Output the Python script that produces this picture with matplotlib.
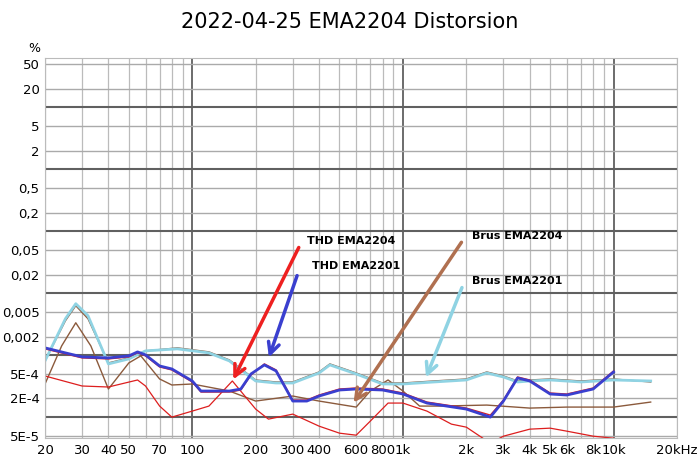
import matplotlib
matplotlib.use("Agg")
import matplotlib.pyplot as plt
import numpy as np

Y0, D = 416.0, 61.7
def v(ys):
    return [1e-4 * 10 ** ((Y0 - y) / D) for y in ys]

brus2201_f = [20, 25, 28, 32, 40, 50, 60, 85, 120, 150, 200, 250, 300, 400, 450, 600, 800, 1000, 1400, 2000, 2500, 3000, 3500, 4000, 5000, 7000, 10000, 15000]
brus2201_y = v([360, 318, 303, 315, 363, 358, 350, 348, 352, 360, 380, 382, 382, 372, 364, 373, 383, 383, 381, 379, 372, 376, 381, 380, 379, 381, 379, 380])
brus2204b_y = v([360, 320, 305, 318, 362, 357, 350, 347, 351, 359, 379, 381, 381, 371, 363, 372, 382, 382, 380, 378, 371, 375, 380, 379, 378, 380, 378, 381])

brus2204_f = [20, 24, 28, 33, 40, 50, 57, 70, 80, 100, 150, 200, 300, 400, 600, 700, 850, 1000, 1200, 1500, 2500, 4000, 6000, 10000, 15000]
brus2204_y = v([383, 345, 322, 345, 388, 362, 355, 378, 384, 383, 390, 400, 395, 400, 406, 390, 379, 390, 405, 405, 404, 407, 406, 406, 401])

thd2201_f = [20, 25, 30, 40, 50, 55, 60, 70, 80, 100, 110, 150, 170, 190, 220, 250, 300, 350, 400, 500, 600, 800, 1000, 1300, 2000, 2600, 3000, 3500, 4000, 5000, 6000, 8000, 10000]
thd2201_y = v([347, 352, 356, 357, 355, 351, 354, 365, 368, 380, 390, 390, 388, 373, 364, 370, 400, 400, 395, 389, 388, 389, 393, 402, 408, 416, 400, 377, 380, 393, 394, 388, 371])
thd2204b_y = v([348, 353, 357, 358, 356, 352, 355, 366, 369, 381, 391, 391, 389, 374, 363, 369, 399, 399, 394, 388, 387, 388, 392, 401, 407, 414, 399, 376, 379, 392, 393, 387, 370])

thd2204_f = [20, 30, 40, 55, 60, 70, 80, 100, 120, 155, 200, 230, 300, 400, 500, 600, 700, 850, 1000, 1300, 1700, 2000, 2600, 3000, 4000, 5000, 6000, 8000, 10000]
thd2204_y = v([375, 385, 386, 379, 385, 405, 416, 410, 405, 380, 408, 418, 413, 425, 432, 434, 420, 402, 402, 410, 423, 426, 442, 435, 428, 427, 430, 435, 437])

xt = [20, 30, 40, 50, 70, 100, 200, 300, 400, 600, 800, 1000, 2000, 3000, 4000, 5000, 6000, 8000, 10000, 20000]
xl = ["20", "30", "40", "50", "70", "100", "200", "300", "400", "600", "800", "1k", "2k", "3k", "4k", "5k", "6k", "8k", "10k", "20kHz"]
yt = [50, 20, 5, 2, 0.5, 0.2, 0.05, 0.02, 0.005, 0.002, 5e-4, 2e-4, 5e-5]
yl = ["50", "20", "5", "2", "0,5", "0,2", "0,05", "0,02", "0,005", "0,002", "5E-4", "2E-4", "5E-5"]

fig = plt.figure(figsize=(7, 4.7), dpi=100)
ax = fig.add_axes([45/700, 32/470, 632/700, 380/470])
ax.set_xscale("log"); ax.set_yscale("log")
ax.set_xlim(20, 20000); ax.set_ylim(4.6e-5, 63)

for dec in [10, 100, 1000, 10000]:
    for m in range(1, 10):
        x = dec * m
        if 20 <= x <= 20000:
            ax.axvline(x, color="#606060" if m == 1 else "#bbbbbb", lw=1.3 if m == 1 else 0.9, zorder=0)
for e in range(-5, 2):
    for m in [1, 2, 5]:
        y = m * 10.0 ** e
        if 4.6e-5 < y < 63:
            ax.axhline(y, color="#606060" if m == 1 else "#aaaaaa", lw=1.5 if m == 1 else 1.0, zorder=0)

ax.plot(brus2201_f, brus2204b_y, color="#8B5A3C", lw=1)
ax.plot(brus2204_f, brus2204_y, color="#8B5A3C", lw=1)
ax.plot(brus2201_f, brus2201_y, color="#8fd3e3", lw=2)
ax.plot(thd2204_f, thd2204_y, color="#dd1e1e", lw=0.9)
ax.plot(thd2201_f, thd2204b_y, color="#dd1e1e", lw=1)
ax.plot(thd2201_f, thd2201_y, color="#3a3fcf", lw=2)

ax.set_xticks(xt); ax.set_xticklabels(xl, fontsize=9.5)
ax.set_xticks([], minor=True)
ax.set_yticks(yt); ax.set_yticklabels(yl, fontsize=9.5)
ax.set_yticks([], minor=True)
ax.tick_params(length=0, pad=4)
for s in ax.spines.values():
    s.set_color("#bbbbbb")

fig.text(0.5, 1 - 22/470, "2022-04-25 EMA2204 Distorsion", ha="center", va="center", fontsize=15)
fig.text(28/700, 1 - 48/470, "%", ha="left", va="center", fontsize=9)

def arrow(x0, y0, x1, y1, c):
    ax.annotate("", xy=(x1, 470 - y1), xytext=(x0, 470 - y0), xycoords="figure pixels",
                textcoords="figure pixels",
                arrowprops=dict(arrowstyle="->,head_length=0.8,head_width=0.4", color=c, lw=2.5))
arrow(300, 245, 232, 382, "#ee2020")
arrow(298, 273, 268, 360, "#3a3fcf")
arrow(463, 240, 352, 405, "#b07050")
arrow(463, 285, 425, 380, "#8fd3e3")
for x, y, t in [(307, 241, "THD EMA2204"), (312, 266, "THD EMA2201"), (472, 236, "Brus EMA2204"), (472, 281, "Brus EMA2201")]:
    fig.text(x/700, 1 - y/470, t, fontsize=8, fontweight="bold", va="center")

fig.savefig("out.png", dpi=100)
